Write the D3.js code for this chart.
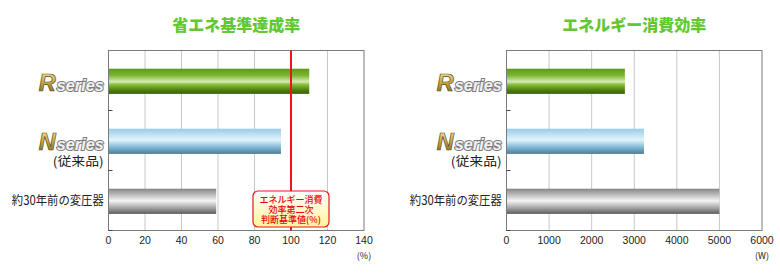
<!DOCTYPE html>
<html>
<head>
<meta charset="utf-8">
<script src="https://cdn.jsdelivr.net/npm/d3@7"></script>
<style>
  body { margin: 0; background: #fff; }
  svg { display: block; }
</style>
</head>
<body>
<div id="chart"></div>
<script>
// --- data ---
const categories = ["R", "N", "old"];
const oldLabel = "約30年前の変圧器";
const rateValues = [110, 94.5, 59];
const powerValues = [2780, 3230, 5000];
const rateTicks = [0, 20, 40, 60, 80, 100, 120, 140];
const powerTicks = [0, 1000, 2000, 3000, 4000, 5000, 6000];
const referenceRate = 100;
const calloutLines = ["エネルギー消費", "効率第二次", "判断基準値(%)"];

const W = 780, H = 275;
const JP = "'Noto Sans CJK JP', 'Noto Sans', sans-serif";
const NUM = "'Liberation Sans', Arial, sans-serif";

const svg = d3.select("#chart").append("svg").attr("width", W).attr("height", H);
const defs = svg.append("defs");

function vGrad(id, stops) {
  const g = defs.append("linearGradient").attr("id", id)
    .attr("x1", 0).attr("y1", 0).attr("x2", 0).attr("y2", 1);
  stops.forEach(s => g.append("stop").attr("offset", s[0]).attr("stop-color", s[1]));
}
vGrad("g-R", [[0, "#5c9a1c"], [0.25, "#78b42e"], [0.52, "#d6ecb4"], [0.62, "#8cc23e"], [0.85, "#4c7e12"], [1, "#3a6408"]]);
vGrad("g-N", [[0, "#98cce8"], [0.45, "#e2f4fc"], [0.7, "#8cc0dc"], [1, "#4c7c9a"]]);
vGrad("g-old", [[0, "#858585"], [0.48, "#f4f4f4"], [0.75, "#a8a8a8"], [1, "#5c5c5c"]]);
vGrad("g-gold", [[0, "#f6eec4"], [0.45, "#cfb04a"], [1, "#7a6220"]]);
vGrad("g-call", [[0, "#ffffff"], [1, "#fff49a"]]);

function seriesLabel(g, letter, xRight, yBase) {
  g.append("text")
    .attr("x", xRight).attr("y", yBase)
    .attr("text-anchor", "end")
    .attr("font-family", NUM).attr("font-style", "italic").attr("font-weight", "bold")
    .attr("font-size", 17)
    .attr("textLength", 47).attr("lengthAdjust", "spacingAndGlyphs")
    .attr("fill", "#f2f2f2").attr("stroke", "#7c7c7c").attr("stroke-width", 2)
    .attr("paint-order", "stroke")
    .text("series");
  g.append("text")
    .attr("x", xRight - 48).attr("y", yBase)
    .attr("text-anchor", "end")
    .attr("font-family", NUM).attr("font-style", "italic").attr("font-weight", "bold")
    .attr("font-size", 23)
    .attr("textLength", 17).attr("lengthAdjust", "spacingAndGlyphs")
    .attr("fill", "url(#g-gold)").attr("stroke", "#5e4c1a").attr("stroke-width", 0.7)
    .text(letter);
}

function panel(opts) {
  const x = d3.scaleLinear().domain(opts.domain).range([opts.left, opts.right]);
  const y = d3.scaleBand().domain(categories).range([opts.top, opts.bottom])
    .paddingInner(0.58).paddingOuter(0.29);
  const g = svg.append("g");

  // title
  g.append("text")
    .attr("x", (opts.left + opts.right) / 2).attr("y", 31)
    .attr("text-anchor", "middle")
    .attr("font-family", JP).attr("font-weight", 900).attr("font-size", 16)
    .attr("fill", "#62c832")
    .text(opts.title);

  // grid
  g.selectAll(".grid").data(opts.ticks.slice(1, -1)).join("line")
    .attr("x1", d => x(d)).attr("x2", d => x(d))
    .attr("y1", opts.top).attr("y2", opts.bottom)
    .attr("stroke", "#c8c8c8").attr("stroke-width", 1);

  // bars
  g.selectAll(".bar").data(opts.values).join("rect")
    .attr("x", x(0)).attr("y", (d, i) => y(categories[i]) + 0.8)
    .attr("width", d => x(d) - x(0)).attr("height", y.bandwidth())
    .attr("fill", (d, i) => `url(#g-${categories[i]})`);

  // frame
  g.append("rect")
    .attr("x", opts.left).attr("y", opts.top)
    .attr("width", opts.right - opts.left).attr("height", opts.bottom - opts.top)
    .attr("fill", "none").attr("stroke", "#7a7a7a").attr("stroke-width", 1);

  // category boundary ticks
  const step = y.step();
  [1, 2, 3].forEach(k => {
    const yy = opts.top + step * k;
    g.append("line").attr("x1", opts.left).attr("x2", opts.left + 4)
      .attr("y1", yy).attr("y2", yy).attr("stroke", "#444").attr("stroke-width", 1);
  });

  // x tick labels
  g.selectAll(".tl").data(opts.ticks).join("text")
    .attr("x", d => x(d)).attr("y", opts.bottom + 13.5)
    .attr("text-anchor", "middle")
    .attr("font-family", NUM).attr("font-size", 10.5).attr("fill", "#222")
    .text(d => d);
  g.append("text")
    .attr("x", opts.right).attr("y", opts.bottom + 28)
    .attr("text-anchor", "middle")
    .attr("font-family", JP).attr("font-size", 9).attr("fill", "#222")
    .text(opts.unit);

  // category labels
  const lx = opts.left - 4.7;
  const c = i => y(categories[i]) + y.bandwidth() / 2;
  seriesLabel(g, "R", lx, c(0) + 10);
  seriesLabel(g, "N", lx, c(1) + 9);
  g.append("text")
    .attr("x", lx).attr("y", c(1) + 21).attr("dy", "0.35em")
    .attr("text-anchor", "end")
    .attr("font-family", JP).attr("font-size", 12.5).attr("fill", "#222")
    .attr("textLength", 51).attr("lengthAdjust", "spacingAndGlyphs")
    .text("(従来品)");
  g.append("text")
    .attr("x", lx).attr("y", c(2) + 0.5).attr("dy", "0.35em")
    .attr("text-anchor", "end")
    .attr("font-family", JP).attr("font-size", 12.5).attr("fill", "#222")
    .attr("textLength", 92).attr("lengthAdjust", "spacingAndGlyphs")
    .text(oldLabel);

  return { g, x, y };
}

const left = panel({
  title: "省エネ基準達成率", domain: [0, 140], ticks: rateTicks, values: rateValues,
  unit: "(%)", left: 108.5, right: 364, top: 50.5, bottom: 230.5
});
panel({
  title: "エネルギー消費効率", domain: [0, 6000], ticks: powerTicks, values: powerValues,
  unit: "(W)", left: 506.5, right: 762, top: 50.5, bottom: 230.5
});

// reference line + callout
const rx = left.x(referenceRate);
left.g.append("line")
  .attr("x1", rx).attr("x2", rx).attr("y1", 50.5).attr("y2", 230.5)
  .attr("stroke", "#e8141e").attr("stroke-width", 2);
const cw = 76, ch = 36, cy = 191;
left.g.append("rect")
  .attr("x", rx - cw / 2).attr("y", cy).attr("width", cw).attr("height", ch)
  .attr("rx", 5).attr("fill", "url(#g-call)")
  .attr("stroke", "#e8141e").attr("stroke-width", 1.2);
left.g.selectAll(".cl").data(calloutLines).join("text")
  .attr("x", rx).attr("y", (d, i) => cy + 8.5 + i * 10).attr("dy", "0.35em")
  .attr("text-anchor", "middle")
  .attr("font-family", JP).attr("font-weight", 500).attr("font-size", 9)
  .attr("fill", "#e60012")
  .text(d => d);
</script>
</body>
</html>
